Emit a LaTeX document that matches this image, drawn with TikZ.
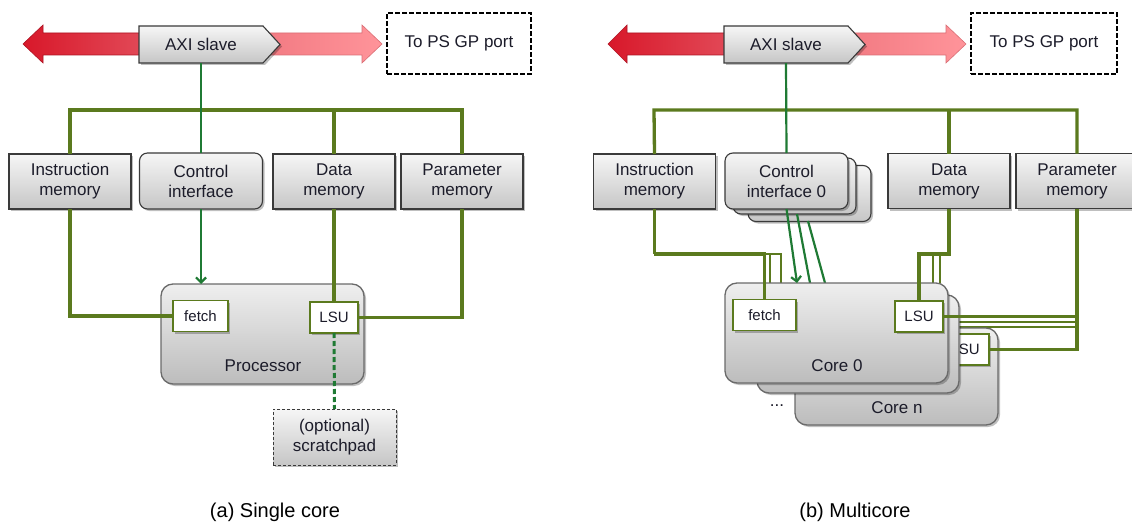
\documentclass[tikz,border=0pt]{standalone}
\usepackage{fontspec}
\setmainfont{Liberation Sans}
\usetikzlibrary{arrows.meta,shadows}

\definecolor{busgreen}{HTML}{5B7A1E}
\definecolor{ctlgreen}{HTML}{1F7A34}
\definecolor{boxedge}{HTML}{3A3A3A}
\definecolor{coreedge}{HTML}{6A6A6A}
\definecolor{boxtop}{HTML}{F6F6F6}
\definecolor{boxbot}{HTML}{C6C6C6}
\definecolor{coretop}{HTML}{EFEFEF}
\definecolor{corebot}{HTML}{BCBCBC}
\definecolor{redL}{HTML}{D8182A}
\definecolor{redR}{HTML}{E24A58}
\definecolor{pinkL}{HTML}{F27A82}
\definecolor{pinkR}{HTML}{FF949A}
\definecolor{inktext}{HTML}{1C1C2A}

\tikzset{
  lbl/.style={font=\fontsize{17}{20}\selectfont, text=inktext, align=center},
  shadowed/.style={drop shadow={shadow xshift=2pt, shadow yshift=-2pt, opacity=0.25, fill=black}},
  membox/.style={lbl, draw=boxedge, line width=1.1pt, top color=boxtop, bottom color=boxbot,
    minimum width=122pt, minimum height=55pt, inner sep=0pt, outer sep=0pt, shadowed},
  ctlbox/.style={membox, rounded corners=8pt, minimum width=123pt, minimum height=56pt},
  corebox/.style={draw=coreedge, line width=1.3pt, top color=coretop, bottom color=corebot,
    rounded corners=12pt, inner sep=0pt, outer sep=0pt, shadowed},
  unit/.style={font=\fontsize{15}{17}\selectfont, text=inktext, draw=busgreen, line width=1.4pt,
    fill=white, minimum height=31pt, inner sep=0pt, outer sep=0pt, shadowed},
  portbox/.style={lbl, draw=black, line width=1.8pt, dash pattern=on 5pt off 2pt,
    fill=white, minimum height=61pt, inner sep=0pt, outer sep=0pt},
  padbox/.style={membox, draw=boxedge, line width=0.9pt, dash pattern=on 3pt off 2pt},
  bus/.style={draw=busgreen, line width=3.3pt},
  thinbus/.style={draw=busgreen, line width=2.8pt},
  ctl/.style={draw=ctlgreen, line width=2.2pt},
  ctlarrow/.style={ctl, -{Straight Barb[length=5pt, width=10pt, line width=2.2pt]}},
  redarrow/.style={draw=redL!80!black, line width=0.6pt, left color=redL, right color=redR},
  pinkarrow/.style={draw=pinkL!90!black, line width=0.6pt, left color=pinkL, right color=pinkR},
  axishape/.style={draw=boxedge, line width=1.1pt, top color=boxtop, bottom color=boxbot, shadowed},
  caption/.style={font=\fontsize{20}{24}\selectfont, text=black},
}

\begin{document}
\begin{tikzpicture}[x=1pt, y=-1pt]
\useasboundingbox (0,0) rectangle (1132,524);
\fill[white] (0,0) rectangle (1132,524);
\clip (0,0) rectangle (1132,524);

% ================= (a) single core =================
% AXI bus arrows
\path[redarrow] (145,33) -- (43,33) -- (43,25) -- (23,44) -- (43,63) -- (43,55) -- (145,55) -- cycle;
\path[pinkarrow] (262,33) -- (362,33) -- (362,25) -- (382,44) -- (362,63) -- (362,55) -- (262,55) -- cycle;
\path[axishape] (139,26) -- (263,26) -- (280,44.5) -- (263,63) -- (139,63) -- cycle;
\node[lbl, minimum width=124pt, minimum height=37pt, inner sep=0pt] (axiL) at (201,44.5) {AXI slave};
\node[portbox, minimum width=144pt] (portL) at (459,43.5) {To PS GP port};

% memories and control interface
\node[membox] (imL) at (70,181.5) {Instruction\\memory};
\node[ctlbox] (ctrlL) at (201,181) {Control\\interface};
\node[membox] (dmL) at (334,181.5) {Data\\memory};
\node[membox] (pmL) at (462,181.5) {Parameter\\memory};

% processor
\node[corebox, minimum width=203pt, minimum height=100pt] (procL) at (262.5,334) {};
\node[lbl] (procLtxt) at (263,366) {Processor};
\node[unit, minimum width=55pt] (fetchL) at (200.5,316) {fetch};
\node[unit, minimum width=48pt] (lsuL) at (334,317.5) {LSU};

% scratchpad
\node[padbox, minimum width=123pt, minimum height=56pt] (spL) at (334.5,437) {(optional)\\scratchpad};

% interconnect
\coordinate (busL) at (70,110);
\draw[bus] (imL.north) -- (busL) -| (pmL.north);
\draw[bus] (dmL.north) -- (dmL.north |- busL);
\draw[ctl] (axiL.south) -- (ctrlL.north);
\draw[bus] (imL.south) |- (fetchL.west);
\draw[bus] (dmL.south) -- (lsuL.north);
\draw[bus] (pmL.south) |- (lsuL.east);
\draw[ctlarrow] (ctrlL.south) -- (ctrlL.south |- procL.north);
\draw[ctl, line width=3pt, dash pattern=on 5pt off 3pt] (lsuL.south) -- (spL.north);

\node[caption] (capA) at (275,512) {(a) Single core};

% ================= (b) multicore =================
\path[redarrow] (730,33) -- (627,33) -- (627,25) -- (608,44) -- (627,63) -- (627,55) -- (730,55) -- cycle;
\path[pinkarrow] (846,33) -- (946,33) -- (946,25) -- (966,44) -- (946,63) -- (946,55) -- (846,55) -- cycle;
\path[axishape] (724,26) -- (848,26) -- (865,44.5) -- (848,63) -- (724,63) -- cycle;
\node[lbl, minimum width=124pt, minimum height=37pt, inner sep=0pt] (axiR) at (786,44.5) {AXI slave};
\node[portbox, minimum width=146pt] (portR) at (1044,43.5) {To PS GP port};

\node[membox] (imR) at (654.5,181.5) {Instruction\\memory};
\node[ctlbox] (ctrlR2) at (809.5,193.5) {};
\node[ctlbox] (ctrlR1) at (794.5,186) {};
\node[ctlbox] (ctrlR) at (786.5,181) {Control\\interface 0};
\node[membox] (dmR) at (949,181) {Data\\memory};
\node[membox] (pmR) at (1077,181) {Parameter\\memory};

% connections that run behind the cores
\coordinate (busR) at (654,110);
\draw[bus] (imR.north) -- (busR) -| (pmR.north);
\draw[bus] (dmR.north) -- (dmR.north |- busR);
\draw[ctl] (axiR.south) -- (ctrlR.north);

\coordinate (imTurn) at (654,254);
\coordinate (fetch1) at (770,283);
\coordinate (fetch2) at (781,283);
\draw[thinbus] (imTurn) -| (fetch1);
\draw[thinbus] (imTurn) -| (fetch2);

\coordinate (dmTurn) at (949,254);
\coordinate (lsu1top) at (933,283);
\coordinate (lsu2top) at (940,283);
\draw[thinbus] (dmTurn) -| (lsu1top);
\draw[thinbus] (dmTurn) -| (lsu2top);

\coordinate (ctl1a) at (797,214);
\coordinate (ctl1b) at (810,283);
\coordinate (ctl2a) at (808,221);
\coordinate (ctl2b) at (825,283);
\coordinate (ctl0b) at (797,283);
\draw[ctl] (ctl1a) -- (ctl1b);
\draw[ctl] (ctl2a) -- (ctl2b);

\coordinate (pm1) at (1077,322);
\coordinate (pm1end) at (945,322);
\coordinate (pm2) at (1077,327);
\coordinate (pm2end) at (945,327);
\draw[thinbus] (pm1) -- (pm1end);
\draw[thinbus] (pm2) -- (pm2end);

% cores
\node[corebox, minimum width=203pt, minimum height=97pt] (coreN) at (896.5,376.5) {};
\node[lbl] (coreNtxt) at (897,408) {Core n};
\node[unit, minimum width=48pt] (lsuN) at (965,349.5) {LSU};
\node[lbl] (dots) at (777,406) {...};
\draw[bus] (pmR.south) |- (lsuN.east);
\node[corebox, minimum width=202pt, minimum height=98pt] (core1) at (858,344) {};
\node[corebox, minimum width=223pt, minimum height=100pt] (core0) at (836.5,333) {};
\node[lbl] (core0txt) at (837,366) {Core 0};
\node[unit, minimum width=63pt] (fetchR) at (764.5,315) {fetch};
\node[unit, minimum width=48pt] (lsuR) at (919,316.5) {LSU};

\draw[bus] (imR.south) |- (imTurn) -| (fetchR.north);
\draw[bus] (dmR.south) |- (dmTurn) -| (lsuR.north);
\draw[bus] (pmR.south) |- (lsuR.east);
\draw[ctlarrow] (ctrlR.south) -- (ctl0b);

\node[caption] (capB) at (855,512) {(b) Multicore};
\end{tikzpicture}
\end{document}
